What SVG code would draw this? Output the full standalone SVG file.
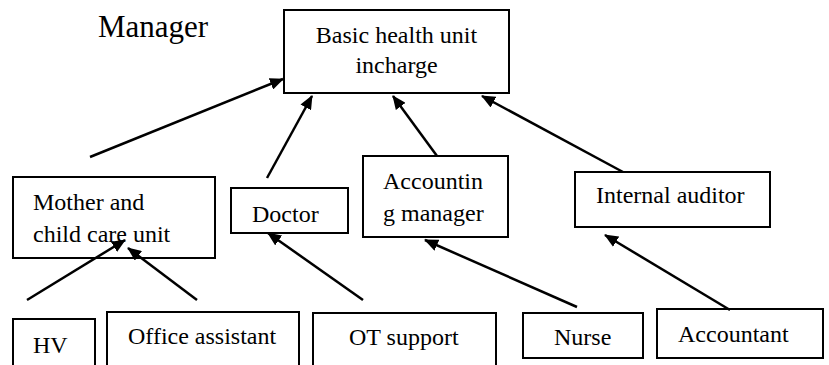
<svg xmlns="http://www.w3.org/2000/svg" width="829" height="365" viewBox="0 0 829 365">
<defs>
<style>
.box{fill:#fff;stroke:#000;stroke-width:2}
.t{font-family:"Liberation Serif","Times New Roman",serif;font-size:24px;fill:#000}
.c{text-anchor:middle}
.ln{stroke:#000;stroke-width:2.5;fill:none;marker-end:url(#ah)}
</style>
<marker id="ah" markerUnits="userSpaceOnUse" viewBox="0 0 14 12" refX="13" refY="6" markerWidth="14" markerHeight="12" orient="auto">
<path d="M0,0 L14,6 L0,12 Z" fill="#000"/>
</marker>
</defs>
<rect width="829" height="365" fill="#fff"/>
<text x="98" y="37" class="t" style="font-size:31px">Manager</text>
<g id="basic-health-unit-incharge">
<rect class="box" x="284" y="10" width="225" height="83"/>
<text class="t c" x="396.5" y="43">Basic health unit</text>
<text class="t c" x="396.5" y="73">incharge</text>
</g>
<g id="mother-child-care-unit">
<rect class="box" x="13" y="177" width="202" height="81"/>
<text class="t" x="33" y="210">Mother and</text>
<text class="t" x="33" y="242">child care unit</text>
</g>
<g id="doctor">
<rect class="box" x="231" y="188" width="117" height="45"/>
<text class="t" x="252" y="222">Doctor</text>
</g>
<g id="accounting-manager">
<rect class="box" x="363" y="156" width="145" height="81"/>
<text class="t" x="383" y="189">Accountin</text>
<text class="t" x="383" y="221">g manager</text>
</g>
<g id="internal-auditor">
<rect class="box" x="575" y="172" width="195" height="55"/>
<text class="t" x="596" y="203">Internal auditor</text>
</g>
<g id="hv">
<rect class="box" x="13" y="319" width="82" height="60"/>
<text class="t" x="33" y="353">HV</text>
</g>
<g id="office-assistant">
<rect class="box" x="107" y="312" width="192" height="67"/>
<text class="t" x="128" y="344">Office assistant</text>
</g>
<g id="ot-support">
<rect class="box" x="313" y="313" width="183" height="66"/>
<text class="t" x="349" y="345">OT support</text>
</g>
<g id="nurse">
<rect class="box" x="523" y="313" width="120" height="45"/>
<text class="t" x="554" y="345">Nurse</text>
</g>
<g id="accountant">
<rect class="box" x="657" y="309" width="166" height="49"/>
<text class="t" x="678" y="342">Accountant</text>
</g>
<g id="connectors">
<line class="ln" x1="90" y1="157" x2="283" y2="79"/>
<line class="ln" x1="267" y1="178" x2="312" y2="96"/>
<line class="ln" x1="437" y1="156" x2="393" y2="96"/>
<line class="ln" x1="623" y1="172" x2="482" y2="96"/>
<line class="ln" x1="27" y1="300" x2="125" y2="240"/>
<line class="ln" x1="197" y1="300" x2="128" y2="248"/>
<line class="ln" x1="363" y1="300" x2="268" y2="233"/>
<line class="ln" x1="577" y1="307" x2="425" y2="240"/>
<line class="ln" x1="730" y1="310" x2="605" y2="235"/>
</g>
</svg>
